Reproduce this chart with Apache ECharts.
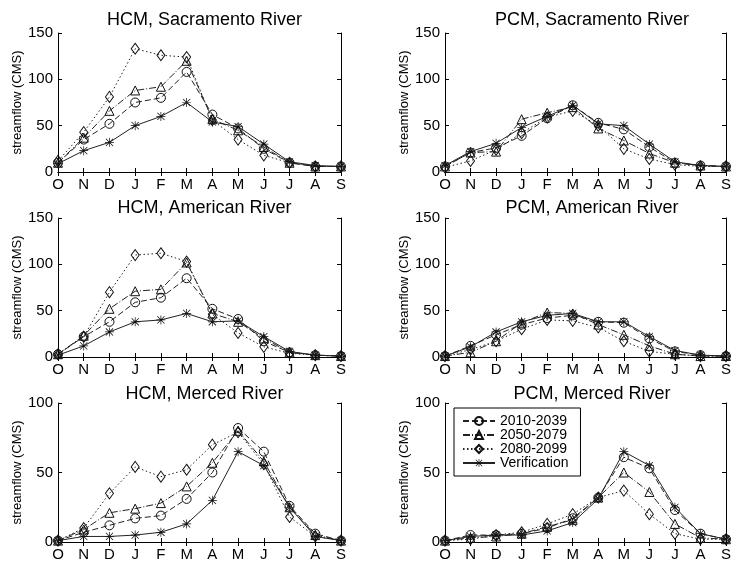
<!DOCTYPE html>
<html>
<head>
<meta charset="utf-8">
<script src="https://cdn.jsdelivr.net/npm/echarts@6/dist/echarts.min.js"></script>
<style>html,body{margin:0;padding:0;background:#fff}#c{width:734px;height:563px}</style>
</head>
<body>
<div id="c"></div>
<script>
var months = ['O','N','D','J','F','M','A','M','J','J','A','S'];
var seriesNames = ['2010-2039','2050-2079','2080-2099','Verification'];
var panelTitles = ['HCM, Sacramento River','PCM, Sacramento River','HCM, American River','PCM, American River','HCM, Merced River','PCM, Merced River'];
var yMax = [150,150,150,150,100,100];
var yTicks = [50,50,50,50,50,50];

// HCM Sacramento
var hcmSac_2010 = [10,35,52,75,80,108,62,47,25,10,6,6];
var hcmSac_2050 = [10,37,66,88,92,120,57,45,27,10,6,6];
var hcmSac_2080 = [12,43,81,133,126,124,56,35,18,10,6,6];
var hcmSac_ver  = [9,23,32,50,60,75,54,49,30,11,7,6];
// PCM Sacramento
var pcmSac_2010 = [6,21,26,39,58,72,53,46,27,10,7,6];
var pcmSac_2050 = [6,21,22,57,64,70,47,34,20,10,7,6];
var pcmSac_2080 = [5,12,24,42,59,66,50,25,14,8,6,6];
var pcmSac_ver  = [7,22,31,48,60,72,52,50,30,11,7,6];
// HCM American
var hcmAm_2010 = [3,22,38,59,64,85,52,41,17,5,2,1];
var hcmAm_2050 = [3,23,52,71,73,102,47,38,20,5,2,1];
var hcmAm_2080 = [3,22,70,110,112,103,46,26,11,4,2,1];
var hcmAm_ver  = [2,12,27,38,40,47,38,39,22,6,2,1];
// PCM American
var pcmAm_2010 = [1,12,24,35,42,45,38,37,20,6,2,1];
var pcmAm_2050 = [1,5,17,37,48,47,35,24,12,3,1,1];
var pcmAm_2080 = [1,8,17,30,40,39,32,17,6,3,1,1];
var pcmAm_ver  = [1,11,27,38,45,47,38,38,22,7,2,1];
// HCM Merced
var hcmMer_2010 = [1,7,12,17,19,31,50,82,65,26,6,1];
var hcmMer_2050 = [1,9,21,24,28,40,57,80,58,25,5,1];
var hcmMer_2080 = [1,10,35,54,47,52,70,79,56,18,4,1];
var hcmMer_ver  = [1,4,4,5,7,13,30,65,55,25,4,1];
// PCM Merced
var pcmMer_2010 = [1,5,5,6,10,17,32,61,53,23,6,2];
var pcmMer_2050 = [1,3,4,6,11,16,32,50,36,13,3,2];
var pcmMer_2080 = [1,2,5,7,13,20,32,37,20,6,2,2];
var pcmMer_ver  = [1,4,5,5,8,14,31,65,55,25,6,2];

var panelData = [
  [hcmSac_2010,hcmSac_2050,hcmSac_2080,hcmSac_ver],
  [pcmSac_2010,pcmSac_2050,pcmSac_2080,pcmSac_ver],
  [hcmAm_2010,hcmAm_2050,hcmAm_2080,hcmAm_ver],
  [pcmAm_2010,pcmAm_2050,pcmAm_2080,pcmAm_ver],
  [hcmMer_2010,hcmMer_2050,hcmMer_2080,hcmMer_ver],
  [pcmMer_2010,pcmMer_2050,pcmMer_2080,pcmMer_ver]
];

var FONT = 'Liberation Sans, Arial, Helvetica, sans-serif';
var colLeft = [58, 445];
var colWidth = [283, 284];
var rowTop = [33, 218, 403];
var plotH = 139;
var titleTop = [6, 194, 380];

var starPath = 'path://M4.6 0 L5.4 0 L5.4 10 L4.6 10 Z M0 4.6 L10 4.6 L10 5.4 L0 5.4 Z M0.7 1.3 L1.3 0.7 L9.3 8.7 L8.7 9.3 Z M8.7 0.7 L9.3 1.3 L1.3 9.3 L0.7 8.7 Z';
var symbols = ['circle','triangle','diamond',starPath];
var symSizes = [9,9,[8,11],9];
var dashes = [[6,3],[7,2,1,2],[1.5,2.5],'solid'];

var grids = [], xAxes = [], yAxes = [], series = [], titles = [];
for (var p = 0; p < 6; p++) {
  var r = Math.floor(p/2), c = p % 2;
  grids.push({left: colLeft[c], top: rowTop[r], width: colWidth[c], height: plotH, containLabel: false});
  titles.push({text: panelTitles[p], left: colLeft[c] + colWidth[c]/2, top: titleTop[r], textAlign: 'center',
    textStyle: {fontFamily: FONT, fontSize: 18, fontWeight: 'normal', color: '#000'}});
  var lineAx = {show: true, lineStyle: {color: '#000', width: 1}};
  xAxes.push({gridIndex: p, type: 'category', data: months, boundaryGap: false, position: 'bottom',
    axisLine: lineAx, axisTick: {show: true, inside: true, length: 4, lineStyle: {color: '#000'}},
    axisLabel: {fontFamily: FONT, fontSize: 15, color: '#000', margin: 5, interval: 0},
    splitLine: {show: false}});
  xAxes.push({gridIndex: p, type: 'category', data: months, boundaryGap: false, position: 'top',
    axisLine: lineAx, axisTick: {show: true, inside: true, length: 4, lineStyle: {color: '#000'}},
    axisLabel: {show: false}, splitLine: {show: false}});
  yAxes.push({gridIndex: p, type: 'value', min: 0, max: yMax[p], interval: yTicks[p], position: 'left',
    name: 'streamflow (CMS)', nameLocation: 'middle', nameGap: 34, nameRotate: 90,
    nameTextStyle: {fontFamily: FONT, fontSize: 13, color: '#000'},
    axisLine: lineAx, axisTick: {show: true, inside: true, length: 4, lineStyle: {color: '#000'}},
    axisLabel: {fontFamily: FONT, fontSize: 15, color: '#000', margin: 5},
    splitLine: {show: false}});
  yAxes.push({gridIndex: p, type: 'value', min: 0, max: yMax[p], interval: yTicks[p], position: 'right',
    axisLine: lineAx, axisTick: {show: true, inside: true, length: 4, lineStyle: {color: '#000'}},
    axisLabel: {show: false}, splitLine: {show: false}});
  for (var s = 0; s < 4; s++) {
    var isStar = s === 3;
    series.push({
      name: seriesNames[s], type: 'line', xAxisIndex: 2*p, yAxisIndex: 2*p,
      data: panelData[p][s], symbol: symbols[s], symbolSize: symSizes[s], showSymbol: true,
      lineStyle: {color: '#222', width: 1, type: dashes[s]},
      itemStyle: isStar ? {color: '#111'} : {color: 'rgba(255,255,255,0)', borderColor: '#111', borderWidth: 1},
      emphasis: {disabled: true}, animation: false, z: 3 + s
    });
  }
}

var chart = echarts.init(document.getElementById('c'), null, {renderer: 'canvas'});
chart.setOption({
  backgroundColor: '#fff',
  animation: false,
  title: titles,
  grid: grids,
  xAxis: xAxes,
  yAxis: yAxes,
  legend: {
    data: seriesNames, orient: 'vertical', left: 454, top: 408,
    padding: [6, 12, 6, 8], itemGap: 0, itemWidth: 32, itemHeight: 10,
    borderColor: '#000', borderWidth: 1, backgroundColor: '#fff',
    textStyle: {fontFamily: FONT, fontSize: 14, color: '#000', lineHeight: 14}
  },
  series: series
});
</script>
</body>
</html>
